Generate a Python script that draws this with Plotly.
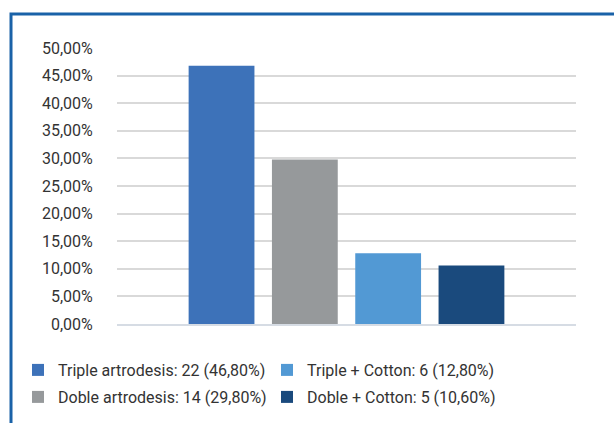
import plotly.graph_objects as go

names = ["Triple artrodesis: 22 (46,80%)", "Doble artrodesis: 14 (29,80%)",
         "Triple + Cotton: 6 (12,80%)", "Doble + Cotton: 5 (10,60%)"]
values = [46.8, 29.8, 12.8, 10.6]
colors = ["#3D72B9", "#96999B", "#5299D4", "#1A4A7D"]
legend_ids = ["legend", "legend2", "legend3", "legend4"]
category = [""]

fig = go.Figure()
for n, v, c, lg in zip(names, values, colors, legend_ids):
    fig.add_trace(go.Bar(x=category, y=[v], name=n, marker=dict(color=c, line=dict(width=0)),
                         legend=lg, showlegend=True))

W, H = 614, 423
L, R, T, B = 117, 38, 48, 99
pw, ph = W - L - R, H - T - B

def px_x(p):
    return (p - L) / pw

def px_y(p):
    return (H - B - p) / ph

font = dict(family="Roboto", size=16, color="#333333")
leg_common = dict(orientation="h", xanchor="left", yanchor="middle", font=font,
                  bgcolor="rgba(0,0,0,0)")

fig.update_layout(
    width=W, height=H,
    showlegend=True,
    margin=dict(l=L, r=R, t=T, b=B, autoexpand=False),
    paper_bgcolor="white", plot_bgcolor="white",
    separators=",.",
    font=font,
    barmode="group", bargap=0.274, bargroupgap=0.21,
    legend=dict(x=px_x(18), y=px_y(370), **leg_common),
    legend2=dict(x=px_x(18), y=px_y(397), **leg_common),
    legend3=dict(x=px_x(267), y=px_y(370), **leg_common),
    legend4=dict(x=px_x(267), y=px_y(397), **leg_common),
    xaxis=dict(showticklabels=False, showgrid=False, showline=True,
               linecolor="#D6DCE4", linewidth=2, ticks=""),
    yaxis=dict(range=[0, 50], dtick=5, tickformat=".2f", ticksuffix="%",
               showgrid=True, gridcolor="#D9D9D9", gridwidth=1.5,
               zeroline=False, showline=False, ticks="outside", ticklen=20,
               tickcolor="rgba(0,0,0,0)", tickfont=font),
    shapes=[dict(type="rect", xref="paper", yref="paper",
                 x0=px_x(11), x1=px_x(630), y0=px_y(440), y1=px_y(14),
                 line=dict(color="#1A62A8", width=3), fillcolor="rgba(0,0,0,0)",
                 layer="below")],
)

fig.write_html("out.html", config={"displayModeBar": False},
               post_script="document.body.style.margin='0';document.body.style.overflow='hidden';")
